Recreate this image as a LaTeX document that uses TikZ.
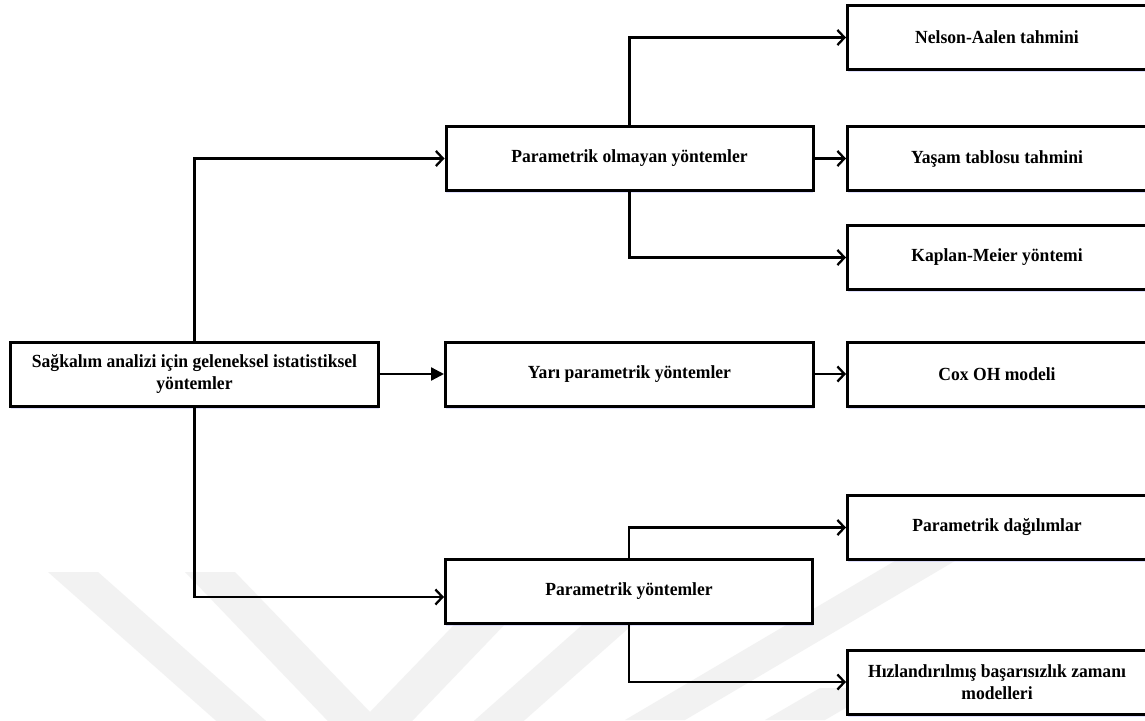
\documentclass[tikz,border=0pt]{standalone}
\usepackage{fontspec}
\setmainfont{Liberation Serif}[FakeStretch=0.95]
\usetikzlibrary{arrows.meta,shadows}
\begin{document}
\begin{tikzpicture}[x=1pt,y=-1pt,
  box/.style={draw=black,line width=3pt,fill=white,minimum height=64pt,inner sep=0pt,align=center,
    font=\bfseries\fontsize{18.5}{22}\selectfont,
    drop shadow={shadow xshift=0pt,shadow yshift=-2.5pt,fill=blue!35!white,opacity=0.35}},
  leftbox/.style={box,minimum width=367pt},
  rightbox/.style={box,minimum width=299pt},
  conn/.style={line width=2.3pt,-{Straight Barb[length=7pt,width=15pt]}},
  fconn/.style={line width=2.3pt,-{Triangle[length=13pt,width=13pt]}},
  wmark/.style={fill=black!5,draw=none}]
\useasboundingbox (0,0) rectangle (1145,720);
\clip (0,0) rectangle (1145,720);
\fill[white] (0,0) rectangle (1145,720);
% faint watermark
\fill[wmark] (48,572) -- (98,572) -- (370,813) -- (642,572) -- (692,572) -- (370,857) -- cycle;
\fill[wmark] (185,572) -- (235,572) -- (370,712) -- (505,572) -- (555,572) -- (370,765) -- cycle;
\fill[wmark] (625,720) -- (685,720) -- (965,555) -- (905,555) -- cycle;
\fill[wmark] (765,720) -- (825,720) -- (880,688) -- (820,688) -- cycle;
% nodes
\node[box,minimum width=368pt] (root) at (194.5,374) {Sağkalım analizi için geleneksel istatistiksel\\yöntemler};
\node[leftbox] (po) at (629.5,158.5) {Parametrik olmayan yöntemler};
\node[box,minimum width=368pt] (yari) at (629.5,374) {Yarı parametrik yöntemler};
\node[leftbox] (param) at (629,591) {Parametrik yöntemler};
\node[rightbox] (nelson) at (997,37.5) {Nelson-Aalen tahmini};
\node[rightbox] (yasam) at (997,158.5) {Yaşam tablosu tahmini};
\node[rightbox] (kaplan) at (997,257.5) {Kaplan-Meier yöntemi};
\node[rightbox] (cox) at (997,374) {Cox OH modeli};
\node[rightbox] (dag) at (997,527.5) {Parametrik dağılımlar};
\node[rightbox] (hiz) at (997,682) {Hızlandırılmış başarısızlık zamanı\\modelleri};
% connectors
\draw[conn] (root.north) |- (po.west);
\draw[fconn] (root.east) -- (yari.west);
\draw[conn] (root.south) |- ([yshift=-6pt]param.west);
\draw[conn] (po.north) |- (nelson.west);
\draw[conn] (po.east) -- (yasam.west);
\draw[conn] (po.south) |- (kaplan.west);
\draw[conn] (yari.east) -- (cox.west);
\draw[conn] (param.north) |- (dag.west);
\draw[conn] (param.south) |- (hiz.west);
\end{tikzpicture}
\end{document}
